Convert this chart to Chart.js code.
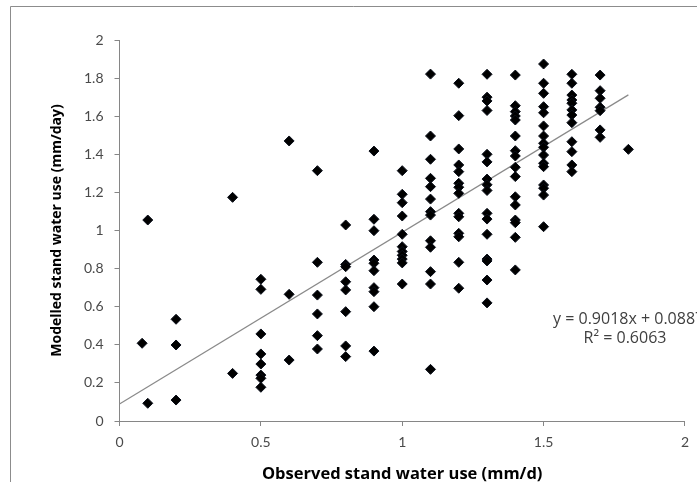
<!DOCTYPE html>
<html>
<head>
<meta charset="utf-8">
<script src="https://cdn.jsdelivr.net/npm/chart.js@4/dist/chart.umd.min.js"></script>
<style>
  html, body { margin: 0; padding: 0; background: #fff; }
  #wrap { position: relative; width: 697px; height: 482px; }
</style>
</head>
<body>
<div id="wrap"><canvas id="c" width="697" height="482"></canvas></div>
<script>
// Observed stand water use (mm/d) for each column of measurements
const observedColumns = [0.08, 0.1, 0.2, 0.4, 0.5, 0.6, 0.7, 0.8, 0.9, 1.0, 1.1, 1.2, 1.3, 1.4, 1.5, 1.6, 1.7, 1.8];

// Modelled stand water use (mm/day) at each observed value above
const modelledColumns = [
  [0.408],
  [1.055, 0.093],
  [0.534, 0.399, 0.11],
  [1.174, 0.25],
  [0.744, 0.691, 0.457, 0.352, 0.299, 0.241, 0.224, 0.177],
  [1.47, 0.665, 0.32],
  [1.314, 0.833, 0.661, 0.562, 0.448, 0.378],
  [1.029, 0.822, 0.81, 0.731, 0.688, 0.574, 0.394, 0.338],
  [1.417, 1.059, 0.999, 0.845, 0.828, 0.789, 0.7, 0.679, 0.6, 0.367],
  [1.314, 1.19, 1.146, 1.076, 0.98, 0.915, 0.89, 0.87, 0.85, 0.83, 0.719],
  [1.821, 1.496, 1.374, 1.274, 1.23, 1.165, 1.099, 1.081, 0.946, 0.912, 0.784, 0.719, 0.271],
  [1.773, 1.603, 1.428, 1.344, 1.309, 1.248, 1.227, 1.195, 1.09, 1.072, 0.985, 0.967, 0.833, 0.697],
  [1.82, 1.70, 1.68, 1.63, 1.40, 1.36, 1.27, 1.24, 1.21, 1.09, 1.06, 0.98, 0.85, 0.84, 0.74, 0.62],
  [1.816, 1.655, 1.624, 1.601, 1.58, 1.496, 1.419, 1.391, 1.332, 1.283, 1.177, 1.134, 1.055, 1.041, 0.964, 0.793],
  [1.874, 1.773, 1.72, 1.65, 1.618, 1.549, 1.496, 1.458, 1.437, 1.396, 1.353, 1.335, 1.239, 1.222, 1.186, 1.02],
  [1.82, 1.773, 1.711, 1.685, 1.668, 1.633, 1.606, 1.566, 1.466, 1.414, 1.344, 1.309],
  [1.816, 1.734, 1.694, 1.647, 1.629, 1.528, 1.489],
  [1.426]
];

// Linear trend fitted to the points
const trendSlope = 0.9018;
const trendIntercept = 0.0887;
const trendRSquared = 0.6063;
const trendRange = [0, 1.8];

// Axis tick labels
const xTickLabels = ['0', '0.5', '1', '1.5', '2'];
const yTickLabels = ['0', '0.2', '0.4', '0.6', '0.8', '1', '1.2', '1.4', '1.6', '1.8', '2'];

const xTitle = 'Observed stand water use (mm/d)';
const yTitle = 'Modelled stand water use (mm/day)';

const scatterPoints = [];
observedColumns.forEach((x, i) => {
  modelledColumns[i].forEach(y => scatterPoints.push({ x: x, y: y }));
});

const trendPoints = trendRange.map(x => ({ x: x, y: trendSlope * x + trendIntercept }));

const equationLine = 'y = ' + trendSlope.toFixed(4) + 'x + ' + trendIntercept.toFixed(4);
const rSquaredLine = 'R\u00B2 = ' + trendRSquared.toFixed(4);

const AXIS_GREY = '#868686';
const TICK_FONT = { family: 'Lato, "Open Sans", sans-serif', size: 14 };

// Outer frame of the chart and the trend equation text
const decorations = {
  id: 'decorations',
  beforeDraw(chart) {
    const ctx = chart.ctx;
    ctx.save();
    ctx.fillStyle = '#ffffff';
    ctx.fillRect(0, 0, chart.width, chart.height);
    ctx.strokeStyle = '#8c8c8c';
    ctx.lineWidth = 1;
    ctx.beginPath();
    ctx.moveTo(10.5, chart.height);
    ctx.lineTo(10.5, 6.5);
    ctx.lineTo(chart.width, 6.5);
    ctx.stroke();
    ctx.restore();
  },
  afterDraw(chart) {
    const ctx = chart.ctx;
    ctx.save();
    ctx.fillStyle = '#404040';
    ctx.font = '16px "Open Sans", "Liberation Sans", sans-serif';
    ctx.textBaseline = 'middle';
    ctx.textAlign = 'left';
    ctx.fillText(equationLine, 553, 319);
    ctx.textAlign = 'center';
    ctx.fillText(rSquaredLine, 625, 338);
    ctx.restore();
  }
};

new Chart(document.getElementById('c'), {
  type: 'scatter',
  data: {
    datasets: [
      {
        label: 'trend',
        type: 'line',
        data: trendPoints,
        borderColor: '#8a8a8a',
        borderWidth: 1.2,
        pointRadius: 0,
        fill: false,
        order: 2
      },
      {
        label: 'stand water use',
        data: scatterPoints,
        pointStyle: 'rectRot',
        pointRadius: 5,
        pointBackgroundColor: '#000000',
        pointBorderColor: '#0a0f1a',
        pointBorderWidth: 1,
        order: 1
      }
    ]
  },
  options: {
    responsive: false,
    animation: false,
    devicePixelRatio: 1,
    layout: { padding: { left: 0, right: 8, top: 40, bottom: 0 } },
    plugins: {
      legend: { display: false },
      tooltip: { enabled: false }
    },
    scales: {
      x: {
        type: 'linear',
        min: 0,
        max: 2,
        afterFit(scale) { scale.height = 61; },
        afterBuildTicks(scale) {
          scale.ticks = xTickLabels.map(v => ({ value: parseFloat(v) }));
        },
        ticks: {
          color: '#4a4a4a',
          font: TICK_FONT,
          padding: 8,
          autoSkip: false,
          maxRotation: 0,
          callback: (v, i) => xTickLabels[i]
        },
        grid: {
          drawOnChartArea: false,
          drawTicks: true,
          tickLength: 5,
          color: AXIS_GREY
        },
        border: { display: true, color: AXIS_GREY, width: 1 },
        title: {
          display: true,
          text: xTitle,
          color: '#000000',
          font: { family: '"Open Sans", "Liberation Sans", sans-serif', size: 16.5, weight: 'bold' },
          padding: { top: 0, bottom: -2 }
        }
      },
      y: {
        type: 'linear',
        min: 0,
        max: 2,
        afterFit(scale) { scale.width = 119.5; },
        afterBuildTicks(scale) {
          scale.ticks = yTickLabels.map(v => ({ value: parseFloat(v) }));
        },
        ticks: {
          color: '#4a4a4a',
          font: TICK_FONT,
          padding: 11,
          autoSkip: false,
          callback: (v, i) => yTickLabels[i]
        },
        grid: {
          drawOnChartArea: false,
          drawTicks: true,
          tickLength: 5,
          color: AXIS_GREY
        },
        border: { display: true, color: AXIS_GREY, width: 1 },
        title: {
          display: true,
          text: yTitle,
          color: '#000000',
          font: { family: '"Open Sans", "Liberation Sans", sans-serif', size: 14, weight: 'bold' },
          padding: { top: 49, bottom: 0 }
        }
      }
    }
  },
  plugins: [decorations]
});
</script>
</body>
</html>
